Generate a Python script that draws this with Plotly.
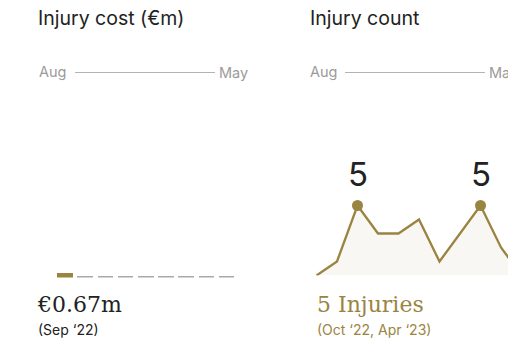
import plotly.graph_objects as go

# Season months (Aug '22 - Jun '23)
months = ["Aug", "Sep", "Oct", "Nov", "Dec", "Jan", "Feb", "Mar", "Apr", "May", "Jun"]
month_years = ["'22", "'22", "'22", "'22", "'22", "'23", "'23", "'23", "'23", "'23", "'23"]
injury_cost = [0, 0.67, 0.22, 0.12, 0.12, 0.12, 0.12, 0.12, 0.28, 0.12, 0]
injury_count = [0, 1, 5, 3, 3, 4, 1, 3, 5, 2, 0]

GOLD = "#9a8441"
GREY_BAR = "#a9a9a9"
DARK = "#222222"
MUTED = "#9b9b9b"
SANS = "Inter, Roboto, sans-serif"
SERIF = "DejaVu Serif, Liberation Serif, serif"

W, H = 508, 342


def px(x):
    return x / W


def py(y):
    return 1 - y / H


idx = list(range(len(months)))

# highlight the most expensive month
max_cost = max(injury_cost)
cost_colors = [GOLD if v == max_cost else GREY_BAR for v in injury_cost]
max_i = injury_cost.index(max_cost)

max_count = max(injury_count)
peak_idx = [i for i, v in enumerate(injury_count) if v == max_count]

fig = go.Figure()

fig.add_trace(go.Bar(
    x=idx, y=injury_cost, marker=dict(color=cost_colors, line=dict(width=0)),
    width=0.77, xaxis="x", yaxis="y", hoverinfo="skip",
))

fig.add_trace(go.Scatter(
    x=idx, y=injury_count, mode="lines", fill="tozeroy",
    fillcolor="#f8f7f3", line=dict(color=GOLD, width=2.3),
    xaxis="x2", yaxis="y2", hoverinfo="skip",
))

fig.add_trace(go.Scatter(
    x=peak_idx, y=[injury_count[i] for i in peak_idx], mode="markers",
    marker=dict(color=GOLD, size=11), xaxis="x2", yaxis="y2", hoverinfo="skip",
))

annotations = []
for i in peak_idx:
    annotations.append(dict(
        x=i, y=injury_count[i], xref="x2", yref="y2", text=str(injury_count[i]),
        showarrow=False, yshift=31, font=dict(family=SANS, size=33, color=DARK),
    ))


def txt(x, y, text, size, color, family=SANS):
    annotations.append(dict(
        x=px(x), y=py(y), xref="paper", yref="paper", text=text, showarrow=False,
        xanchor="left", yanchor="middle", font=dict(family=family, size=size, color=color),
    ))


# panel titles
txt(36, 18, "Injury cost (€m)", 19.5, DARK)
txt(308, 18, "Injury count", 19.5, DARK)

# season span keys
txt(37, 72, months[0], 14.5, MUTED)
txt(217, 72, months[-2], 14.5, MUTED)
txt(308, 72, months[0], 14.5, MUTED)
txt(487, 72, months[-2], 14.5, MUTED)

# headline figures
txt(35, 304, f"€{max_cost:.2f}m", 22, DARK, SERIF)
txt(36, 329, f"({months[max_i]} {month_years[max_i].replace(chr(39), '‘')})", 14, DARK)
txt(315, 304, f"{max_count} Injuries", 22, GOLD, SERIF)
peaks_txt = ", ".join(f"{months[i]} {month_years[i].replace(chr(39), '‘')}" for i in peak_idx)
txt(315, 329, f"({peaks_txt})", 14, GOLD)

shapes = [
    dict(type="line", xref="paper", yref="paper", x0=px(75), x1=px(215), y0=py(72.5), y1=py(72.5),
         line=dict(color="#b3b3b3", width=1)),
    dict(type="line", xref="paper", yref="paper", x0=px(345), x1=px(485), y0=py(72.5), y1=py(72.5),
         line=dict(color="#b3b3b3", width=1)),
]

axis_common = dict(showgrid=False, zeroline=False, showticklabels=False, showline=False, ticks="", fixedrange=True)

fig.update_layout(
    width=W, height=H, margin=dict(l=0, r=0, t=0, b=0),
    paper_bgcolor="white", plot_bgcolor="rgba(0,0,0,0)", showlegend=False,
    xaxis=dict(domain=[0, 0.5], range=[-2.219, 10.362], **axis_common),
    yaxis=dict(domain=[py(277.6), py(90)], range=[0, 187.6 / 7.0], **axis_common),
    xaxis2=dict(domain=[px(311), 1], range=[-0.268, 9.341], anchor="y2", **axis_common),
    yaxis2=dict(domain=[py(275.5), py(90)], range=[0, 185.5 / 14.0], anchor="x2", **axis_common),
    annotations=annotations, shapes=shapes, bargap=0,
)

fig.write_html("out.html")
